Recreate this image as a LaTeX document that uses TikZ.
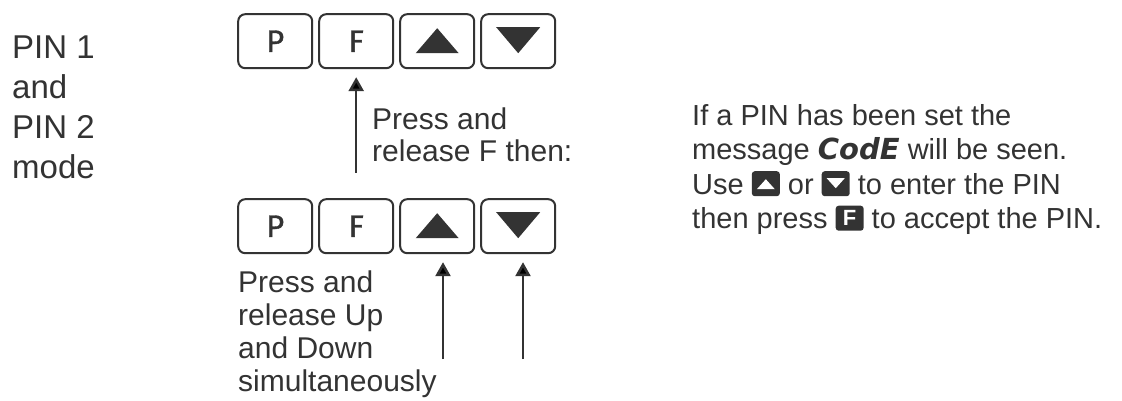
\documentclass[tikz,border=0pt]{standalone}
\usepackage{fontspec}
\setmainfont{Liberation Sans}
\newfontfamily\keyfont[FakeBold=1.2]{Fira Sans}
\newfontfamily\segfont{DejaVu Sans}
\usepackage{xcolor}
\usetikzlibrary{matrix}
\usetikzlibrary{arrows.meta}
\definecolor{ink}{HTML}{333333}
\tikzset{
keyrow/.style={
  matrix of nodes,
  column sep=5pt,
  inner sep=0pt,
  nodes={draw=ink,line width=2pt,rounded corners=7pt,anchor=center,
    minimum width=74pt,minimum height=54pt,inner sep=0pt,
    text=ink,font=\keyfont\fontsize{31}{31}\selectfont},
  nodes in empty cells
},
presses/.style={draw=ink,line width=2.5pt,shorten >=8pt,
  -{Triangle[width=15pt,length=14pt]}},
say/.style={text=ink,inner sep=0pt,align=left,anchor=north west,
  font=\fontsize{30}{33}\selectfont},
}
% the little key icons in the running text
\newcommand{\iconbox}[1]{\tikz[baseline=0pt,x=1pt,y=1pt]{%
  \fill[ink,rounded corners=3pt] (0,-2) rectangle (28,23); #1}}
\newcommand{\upicon}{\iconbox{\fill[white] (5,5) -- (23,5) -- (14,15) -- cycle;}}
\newcommand{\downicon}{\iconbox{\fill[white] (5,16) -- (23,16) -- (14,6) -- cycle;}}
\newcommand{\ficon}{\iconbox{\node[text=white,inner sep=0pt,anchor=center,
  font=\bfseries\fontsize{22}{22}\selectfont] at (14,10.5) {F};}}
\newcommand{\codeword}{{\segfont\bfseries\itshape CodE}}

\begin{document}
\begin{tikzpicture}[x=1pt,y=-1pt]
\useasboundingbox[fill=white] (0,0) rectangle (1122,401);
% the two key rows
\matrix (top) [keyrow,anchor=north west] at (237,13) { P & F & & \\ };
\matrix (bot) [keyrow,anchor=north west] at (237,198) { P & F & & \\ };
% the arrow symbols on the keys
\foreach \m in {top,bot}
{
  \fill[ink] (\m-1-3.center) ++(-21.5,12) -- ++(43,0) -- ++(-21.5,-25) -- cycle;
  \fill[ink] (\m-1-4.center) ++(-22,-14) -- ++(44,0) -- ++(-22,26) -- cycle;
}
% the texts
\node[say,font=\fontsize{33}{40}\selectfont] (mode) at (12,36)
  {PIN 1\\and\\PIN 2\\mode};
\node[say,font=\fontsize{30}{32}\selectfont] (fhint) at (372,108)
  {Press and\\release F then:};
\node[say] (uphint) at (238,271)
  {Press and\\release Up\\and Down\\simultaneously};
\node[say,font=\fontsize{29}{34.5}\selectfont] (pin) at (692,104)
  {If a PIN has been set the\\
   message \codeword{} will be seen.\\
   Use \upicon{} or \downicon{} to enter the PIN\\
   then press \ficon{} to accept the PIN.};
% the arrows
\coordinate (fgo) at (356,173);
\coordinate (upgo) at (443,359);
\coordinate (downgo) at (523,359);
\draw[presses] (top-1-2.south |- fgo) -- (top-1-2.south);
\draw[presses] (upgo) -- (upgo |- bot-1-3.south);
\draw[presses] (downgo) -- (downgo |- bot-1-4.south);
\end{tikzpicture}
\end{document}
